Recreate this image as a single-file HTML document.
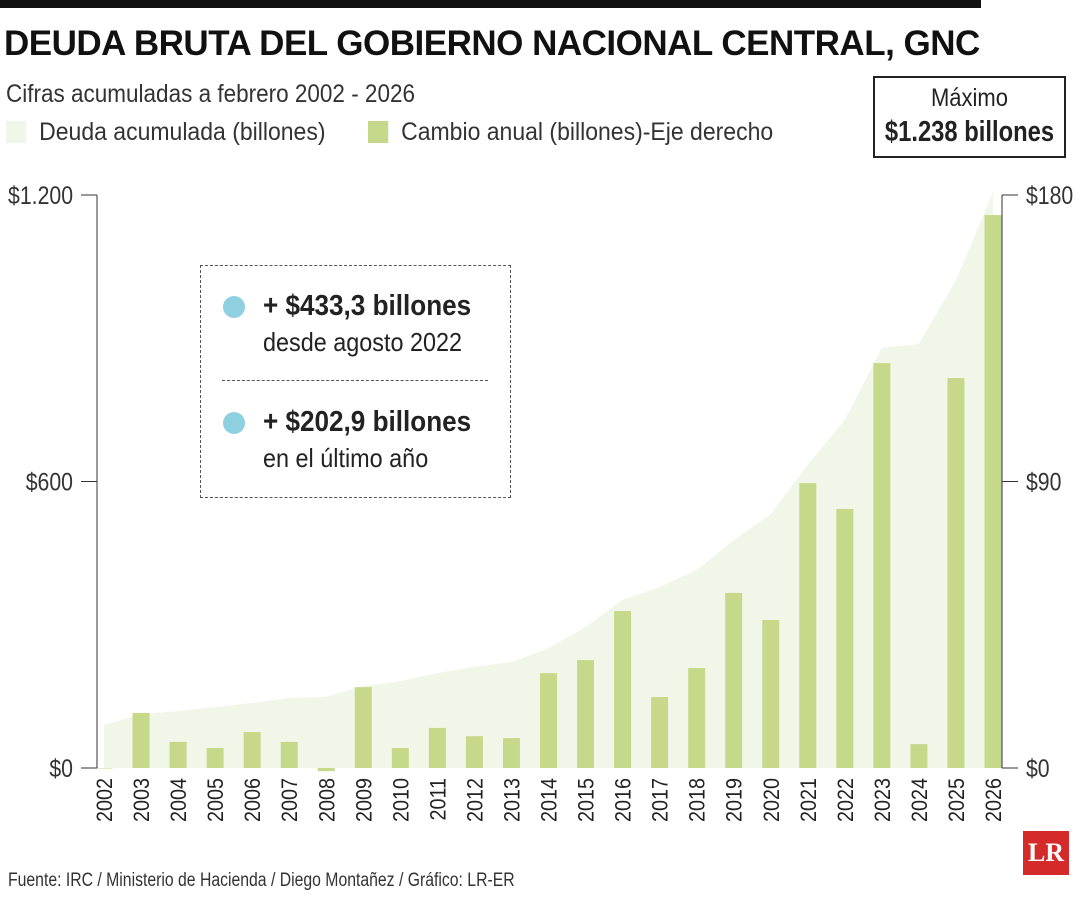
<!DOCTYPE html>
<html><head><meta charset="utf-8"><style>
body{margin:0;background:#fff;width:1080px;height:900px;overflow:hidden;font-family:"Liberation Sans Narrow","Liberation Sans",sans-serif;color:#222}
.abs{position:absolute;white-space:nowrap;transform-origin:0 0}
</style></head><body>
<div class="abs" style="left:0;top:0;width:981px;height:8px;background:#111"></div>
<div class="abs" style="left:4px;top:24px;font-size:35px;font-weight:bold;color:#111;letter-spacing:-0.5px">DEUDA BRUTA DEL GOBIERNO NACIONAL CENTRAL, GNC</div>
<div class="abs" style="left:6px;top:80px;font-size:25px;color:#333;transform:scaleX(0.9)">Cifras acumuladas a febrero 2002 - 2026</div>
<div class="abs" style="left:6px;top:118px;font-size:25px;color:#333;transform:scaleX(0.92)"><span style="display:inline-block;width:22px;height:22px;background:#f1f7e8;vertical-align:-3px;margin-right:14px"></span>Deuda acumulada (billones)</div>
<div class="abs" style="left:368px;top:118px;font-size:25px;color:#333;transform:scaleX(0.92)"><span style="display:inline-block;width:22px;height:22px;background:#c6d98a;vertical-align:-3px;margin-right:14px"></span>Cambio anual (billones)-Eje derecho</div>
<div class="abs" style="left:873px;top:76px;width:193px;height:82px;border:2px solid #222;box-sizing:border-box"></div>
<div class="abs" style="left:873px;top:84px;width:193px;text-align:center;font-size:25px;transform:scaleX(0.88);transform-origin:50% 0">Máximo</div>
<div class="abs" style="left:853px;top:116px;width:233px;text-align:center;font-size:29px;font-weight:bold;transform:scaleX(0.82);transform-origin:50% 0">$1.238 billones</div>
<svg class="abs" style="left:0;top:0" width="1080" height="900" id="chart"></svg>
<div class="abs" style="left:200px;top:265px;width:311px;height:233px;border:1.5px dashed #555;box-sizing:border-box"></div>
<div class="abs" style="left:222px;top:380px;width:266px;border-top:1.5px dashed #555"></div>
<div class="abs" style="left:223px;top:296px;width:22px;height:22px;border-radius:50%;background:#8ecfe0"></div>
<div class="abs" style="left:263px;top:288px;font-size:29px;line-height:36px;transform:scaleX(0.9)"><b>+ $433,3 billones</b><br><span style="font-size:26px">desde agosto 2022</span></div>
<div class="abs" style="left:223px;top:412px;width:22px;height:22px;border-radius:50%;background:#8ecfe0"></div>
<div class="abs" style="left:263px;top:404px;font-size:29px;line-height:36px;transform:scaleX(0.9)"><b>+ $202,9 billones</b><br><span style="font-size:26px">en el último año</span></div>
<div class="abs" style="left:8px;top:870px;font-size:19px;color:#333;transform:scaleX(0.83)">Fuente: IRC / Ministerio de Hacienda / Diego Montañez / Gráfico: LR-ER</div>
<div class="abs" style="left:1023px;top:831px;width:46px;height:44px;background:#d42a2a;color:#fff;font-family:'Liberation Serif',serif;font-weight:bold;font-size:26px;text-align:center;line-height:44px">LR</div>
<script>
const years=[2002,2003,2004,2005,2006,2007,2008,2009,2010,2011,2012,2013,2014,2015,2016,2017,2018,2019,2020,2021,2022,2023,2024,2025,2026];
const debt=[90,113,119,128,136,147,149,172,182,199,212,222,251,295,352,379,415,477,532,635,729,880,888,1022,1205];
const change=[0,17.3,8.2,6.3,11.3,8.2,-1,25.4,6.3,12.6,10,9.4,29.8,33.9,49.3,22.3,31.4,55,46.5,89.5,81.4,127.2,7.5,122.5,173.7];
const leftTicks=["$0","$600","$1.200"];const leftVals=[0,600,1200];
const rightTicks=["$0","$90","$180"];const rightVals=[0,90,180];
const svg=document.getElementById('chart');const NS='http://www.w3.org/2000/svg';
const y0=768,y1=195,xL=97,xR=1002;
const yL=v=>y0-(v/1200)*(y0-y1);const yR=v=>y0-(v/180)*(y0-y1);
const x=i=>104+i*(993-104)/(years.length-1);
function mk(t,a){const e=document.createElementNS(NS,t);for(const k in a)e.setAttribute(k,a[k]);svg.appendChild(e);return e;}
let d=`M${x(0)},${y0}`;debt.forEach((v,i)=>d+=` L${x(i)},${yL(v)}`);d+=` L${x(years.length-1)},${y0}Z`;
const ar=mk('path',{d:d,fill:'#f1f7e8'});


change.forEach((v,i)=>{const t=Math.min(yR(v),yR(0)),h=Math.abs(yR(v)-yR(0));
const b=mk('rect',{x:x(i)-8.5,y:t,width:17,height:Math.max(h,0.5),fill:'#c6d98a'});


const tx=mk('text',{x:0,y:0,transform:`translate(${x(i)+8},${778}) rotate(-90) scale(0.9,1)`,'text-anchor':'end','font-size':'22','fill':'#222','font-family':'Liberation Sans Narrow, Liberation Sans, sans-serif'});tx.textContent=years[i];

});
mk('line',{x1:xL,y1:y1,x2:xL,y2:y0,stroke:'#333','stroke-width':1});
mk('line',{x1:xR,y1:y1,x2:xR,y2:y0,stroke:'#333','stroke-width':1});
leftVals.forEach((v,i)=>{mk('line',{x1:xL-16,x2:xL,y1:yL(v),y2:yL(v),stroke:'#333'});
const t=mk('text',{x:0,y:0,transform:`translate(${xL-24},${yL(v)+9}) scale(0.85,1)`,'text-anchor':'end','font-size':'25','fill':'#333','font-family':'Liberation Sans Narrow, Liberation Sans, sans-serif'});t.textContent=leftTicks[i];

});
rightVals.forEach((v,i)=>{mk('line',{x1:xR,x2:xR+16,y1:yR(v),y2:yR(v),stroke:'#333'});
const t=mk('text',{x:0,y:0,transform:`translate(${xR+24},${yR(v)+9}) scale(0.85,1)`,'font-size':'25','fill':'#333','font-family':'Liberation Sans Narrow, Liberation Sans, sans-serif'});t.textContent=rightTicks[i];

});
</script>
</body></html>
